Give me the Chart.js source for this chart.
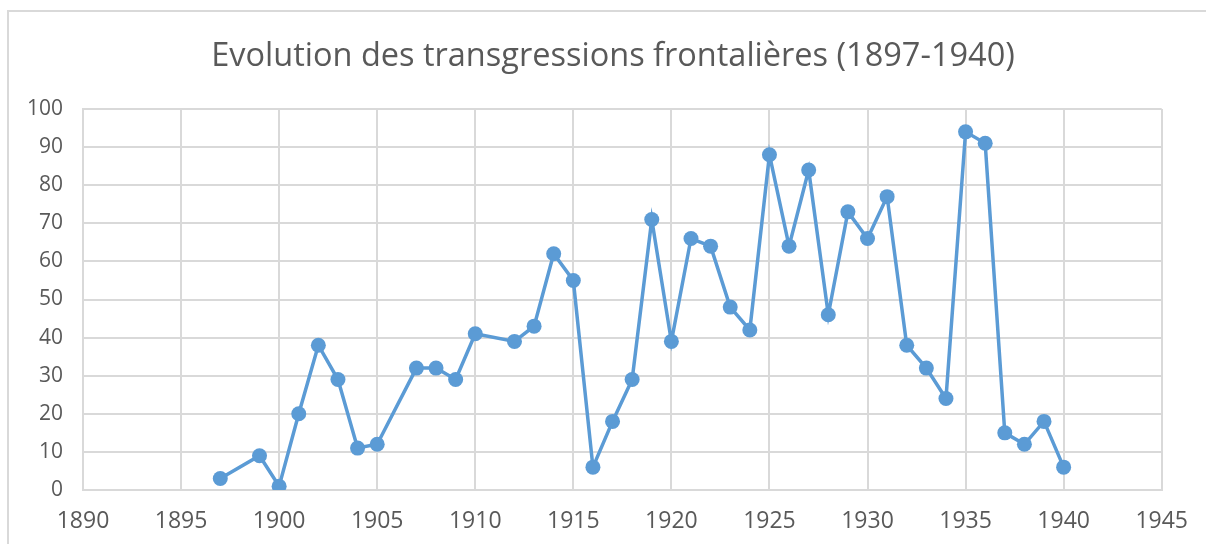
<!DOCTYPE html>
<html>
<head>
<meta charset="utf-8">
<script src="https://cdn.jsdelivr.net/npm/chart.js@4"></script>
<style>
  html, body { margin: 0; padding: 0; background: #fff; }
  #wrap { position: relative; width: 1206px; height: 544px; }
  #frame { position: absolute; left: 7px; top: 10px; width: 1210px; height: 550px;
           border-left: 2px solid #d9d9d9; border-top: 2px solid #d9d9d9; box-sizing: border-box; }
  canvas { position: absolute; left: 0; top: 0; }
</style>
</head>
<body>
<div id="wrap">
  <div id="frame"></div>
  <canvas id="chart" width="1206" height="544"></canvas>
</div>
<script>
// années et nombre de transgressions
var years = [1897, 1899, 1900, 1901, 1902, 1903, 1904, 1905, 1907, 1908, 1909, 1910,
             1912, 1913, 1914, 1915, 1916, 1917, 1918, 1919, 1920, 1921, 1922, 1923,
             1924, 1925, 1926, 1927, 1928, 1929, 1930, 1931, 1932, 1933, 1934, 1935,
             1936, 1937, 1938, 1939, 1940];
var counts = [3, 9, 1, 20, 38, 29, 11, 12, 32, 32, 29, 41,
              39, 43, 62, 55, 6, 18, 29, 71, 39, 66, 64, 48,
              42, 88, 64, 84, 46, 73, 66, 77, 38, 32, 24, 94,
              91, 15, 12, 18, 6];
var xMin = 1890, xMax = 1945, xStep = 5;
var yMin = 0, yMax = 100, yStep = 10;
var chartTitle = "Evolution des transgressions frontalières (1897-1940)";

var points = years.map(function(y, i) { return { x: y, y: counts[i] }; });

var ctx = document.getElementById("chart");
var chart = new Chart(ctx, {
    type: "line",
    data: {
        datasets: [{
            label: "Transgressions",
            data: points,
            borderColor: "#5b9bd5",
            backgroundColor: "#5b9bd5",
            borderWidth: 3.5,
            pointRadius: 7.5,
            pointHoverRadius: 7.5,
            pointBorderWidth: 0,
            fill: false,
            tension: 0
        }]
    },
    options: {
        responsive: false,
        animation: false,
        layout: { padding: { left: 20, right: 0, top: 0, bottom: 0 } },
        plugins: {
            legend: { display: false },
            tooltip: { enabled: false },
            title: {
                display: true,
                text: chartTitle,
                color: "#595959",
                font: { family: "'Open Sans', sans-serif", size: 32.5, weight: "normal", lineHeight: 1.2 },
                padding: { top: 37, bottom: 33 }
            }
        },
        scales: {
            x: {
                type: "linear",
                min: xMin, max: xMax,
                afterFit: function(s) { s.height = 54; },
                ticks: {
                    stepSize: xStep,
                    padding: 18,
                    color: "#595959",
                    font: { family: "'Open Sans', sans-serif", size: 23 },
                    maxRotation: 0,
                    callback: function(v) { return String(v); }
                },
                grid: { color: "#d9d9d9", lineWidth: 2, drawTicks: false },
                border: { color: "#d9d9d9", width: 2 }
            },
            y: {
                min: yMin, max: yMax,
                afterFit: function(s) { s.width = 63; },
                ticks: {
                    stepSize: yStep,
                    padding: 20,
                    color: "#595959",
                    font: { family: "'Open Sans', sans-serif", size: 21 }
                },
                grid: { color: "#d9d9d9", lineWidth: 2, drawTicks: false },
                border: { color: "#d9d9d9", width: 2 }
            },
            // axe vide à droite, sert seulement à réserver la marge
            yRight: {
                position: "right",
                min: yMin, max: yMax,
                afterFit: function(s) { s.width = 41; },
                ticks: { display: false },
                grid: { display: false, drawTicks: false },
                border: { display: false }
            }
        }
    }
});
</script>
</body>
</html>
